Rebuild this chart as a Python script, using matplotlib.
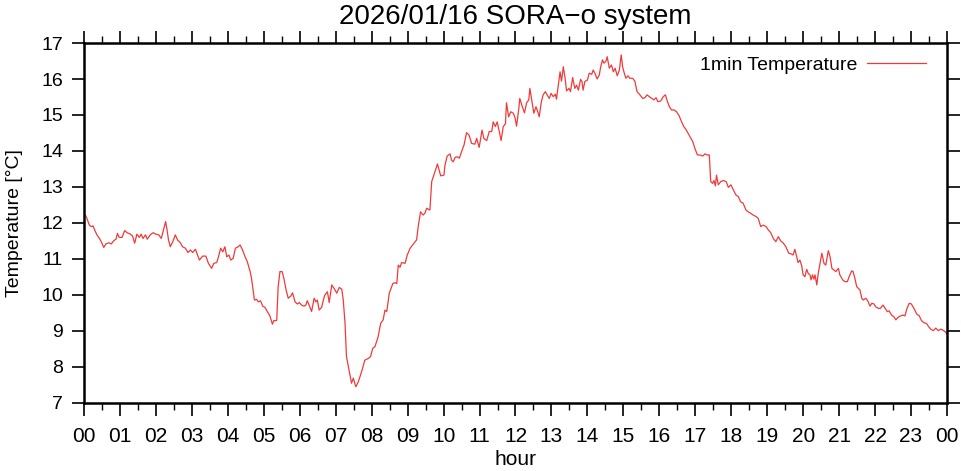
import numpy as np
import matplotlib
matplotlib.use('Agg')
import matplotlib.pyplot as plt
from matplotlib.ticker import MultipleLocator

# 1 minute temperature (hour, degC)
hours = [
    0.00, 0.04, 0.08, 0.15, 0.20, 0.25, 0.30, 0.36, 0.43, 0.48, 0.55, 0.61, 0.69, 0.76, 0.83,
    0.89, 0.93, 0.98, 1.06, 1.13, 1.20, 1.29, 1.35, 1.41, 1.47, 1.54, 1.59, 1.64, 1.71, 1.76,
    1.84, 1.92, 2.00, 2.08, 2.15, 2.21, 2.27, 2.31, 2.35, 2.40, 2.47, 2.54, 2.60, 2.68, 2.74,
    2.82, 2.89, 2.96, 3.02, 3.10, 3.21, 3.30, 3.39, 3.46, 3.55, 3.61, 3.69, 3.74, 3.80, 3.86,
    3.92, 3.97, 4.03, 4.08, 4.15, 4.21, 4.29, 4.34, 4.41, 4.48, 4.54, 4.62, 4.66, 4.71, 4.74,
    4.80, 4.85, 4.91, 4.97, 5.03, 5.10, 5.17, 5.24, 5.28, 5.36, 5.40, 5.45, 5.51, 5.56, 5.62,
    5.68, 5.75, 5.80, 5.87, 5.93, 5.99, 6.05, 6.12, 6.17, 6.21, 6.26, 6.33, 6.40, 6.45, 6.49,
    6.54, 6.61, 6.67, 6.70, 6.77, 6.82, 6.89, 6.95, 7.03, 7.10, 7.17, 7.21, 7.26, 7.30, 7.38,
    7.44, 7.49, 7.56, 7.63, 7.72, 7.81, 7.91, 7.97, 8.03, 8.09, 8.18, 8.25, 8.32, 8.37, 8.42,
    8.49, 8.59, 8.65, 8.70, 8.74, 8.79, 8.83, 8.93, 8.99, 9.07, 9.18, 9.25, 9.30, 9.36, 9.43,
    9.48, 9.53, 9.62, 9.67, 9.73, 9.83, 9.92, 10.01, 10.04, 10.10, 10.18, 10.22, 10.27, 10.32,
    10.38, 10.44, 10.50, 10.57, 10.64, 10.71, 10.78, 10.87, 10.92, 10.99, 11.07, 11.12, 11.20,
    11.27, 11.34, 11.38, 11.44, 11.49, 11.55, 11.60, 11.66, 11.72, 11.75, 11.81, 11.87, 11.94,
    11.99, 12.03, 12.09, 12.12, 12.19, 12.25, 12.31, 12.37, 12.40, 12.46, 12.51, 12.57, 12.62,
    12.66, 12.72, 12.77, 12.83, 12.88, 12.94, 12.99, 13.05, 13.11, 13.14, 13.20, 13.24, 13.28,
    13.33, 13.38, 13.42, 13.49, 13.53, 13.59, 13.65, 13.70, 13.75, 13.81, 13.85, 13.88, 13.93,
    14.00, 14.05, 14.12, 14.16, 14.21, 14.27, 14.33, 14.37, 14.42, 14.46, 14.52, 14.55, 14.61,
    14.67, 14.72, 14.77, 14.83, 14.89, 14.94, 14.98, 15.02, 15.07, 15.13, 15.18, 15.26, 15.32,
    15.38, 15.46, 15.54, 15.60, 15.66, 15.72, 15.79, 15.85, 15.91, 15.96, 16.04, 16.11, 16.17,
    16.22, 16.28, 16.34, 16.41, 16.48, 16.55, 16.62, 16.68, 16.74, 16.83, 16.93, 16.99, 17.06,
    17.13, 17.21, 17.27, 17.33, 17.39, 17.43, 17.48, 17.52, 17.56, 17.59, 17.64, 17.71, 17.78,
    17.86, 17.92, 17.99, 18.06, 18.13, 18.20, 18.26, 18.33, 18.41, 18.47, 18.54, 18.61, 18.69,
    18.75, 18.82, 18.89, 18.97, 19.03, 19.10, 19.17, 19.24, 19.31, 19.37, 19.45, 19.52, 19.60,
    19.67, 19.72, 19.77, 19.82, 19.86, 19.91, 19.96, 20.00, 20.05, 20.10, 20.14, 20.19, 20.22,
    20.26, 20.30, 20.33, 20.38, 20.42, 20.47, 20.52, 20.58, 20.63, 20.70, 20.75, 20.80, 20.86,
    20.91, 20.98, 21.02, 21.10, 21.16, 21.23, 21.28, 21.35, 21.39, 21.44, 21.49, 21.54, 21.58,
    21.63, 21.67, 21.75, 21.81, 21.86, 21.91, 21.97, 22.02, 22.09, 22.15, 22.22, 22.28, 22.34,
    22.39, 22.46, 22.52, 22.58, 22.64, 22.71, 22.78, 22.83, 22.89, 22.95, 23.01, 23.08, 23.16,
    23.23, 23.29, 23.36, 23.43, 23.49, 23.55, 23.62, 23.69, 23.76, 23.82, 23.88, 23.95, 24.00,
]
temps = [
    12.25, 12.22, 12.13, 11.94, 11.90, 11.92, 11.80, 11.67, 11.57, 11.48, 11.32, 11.42, 11.45, 11.42, 11.51,
    11.55, 11.71, 11.60, 11.60, 11.79, 11.73, 11.69, 11.64, 11.44, 11.69, 11.60, 11.69, 11.57, 11.67, 11.55,
    11.67, 11.73, 11.69, 11.67, 11.57, 11.81, 12.04, 11.81, 11.53, 11.34, 11.48, 11.67, 11.53, 11.45, 11.34,
    11.30, 11.18, 11.25, 11.18, 11.27, 10.97, 11.08, 11.08, 10.88, 10.74, 10.88, 10.90, 11.06, 11.30, 11.20,
    11.34, 11.06, 11.11, 10.97, 11.02, 11.30, 11.34, 11.39, 11.25, 11.06, 10.93, 10.65, 10.46, 10.09, 9.86,
    9.88, 9.81, 9.84, 9.69, 9.66, 9.54, 9.42, 9.19, 9.29, 9.29, 10.23, 10.65, 10.65, 10.46, 10.14,
    9.91, 9.97, 10.06, 9.81, 9.75, 9.79, 9.72, 9.69, 9.72, 9.84, 9.72, 9.54, 9.91, 9.81, 9.86,
    9.58, 9.66, 9.91, 10.00, 10.09, 9.79, 10.28, 10.19, 10.05, 10.21, 10.16, 9.86, 9.21, 8.29, 7.87,
    7.55, 7.69, 7.45, 7.59, 7.87, 8.19, 8.24, 8.29, 8.52, 8.56, 8.84, 9.21, 9.31, 9.58, 9.54,
    10.05, 10.32, 10.34, 10.32, 10.83, 10.77, 10.90, 10.88, 11.11, 11.30, 11.44, 11.53, 11.94, 12.31, 12.22,
    12.27, 12.41, 12.36, 13.15, 13.33, 13.64, 13.31, 13.33, 13.61, 13.86, 13.92, 13.75, 13.70, 13.82,
    13.84, 13.80, 13.98, 14.17, 14.51, 14.44, 14.21, 14.19, 14.35, 14.10, 14.58, 14.35, 14.29,
    14.54, 14.54, 14.81, 14.68, 14.81, 14.54, 14.29, 14.68, 14.75, 15.34, 14.95, 15.09, 15.05,
    14.91, 14.69, 15.16, 15.46, 15.23, 15.06, 15.34, 15.42, 15.74, 15.37, 15.05, 15.23, 15.09,
    14.95, 15.37, 15.56, 15.65, 15.56, 15.46, 15.60, 15.51, 15.58, 15.44, 15.90, 16.20, 15.94,
    16.34, 16.02, 15.67, 15.74, 15.65, 16.04, 15.74, 15.83, 15.69, 15.99, 15.93, 15.69, 15.93,
    15.97, 16.16, 16.13, 16.25, 16.16, 16.00, 16.11, 16.34, 16.53, 16.44, 16.50, 16.62, 16.30,
    16.39, 16.20, 16.30, 16.09, 16.25, 16.67, 16.34, 16.18, 16.02, 16.09, 16.02, 16.02, 15.94,
    15.65, 15.56, 15.46, 15.48, 15.56, 15.51, 15.46, 15.42, 15.48, 15.37, 15.39, 15.51, 15.56,
    15.39, 15.23, 15.14, 15.14, 15.09, 14.98, 14.81, 14.68, 14.60, 14.44, 14.26, 14.07, 13.89,
    13.89, 13.86, 13.92, 13.89, 13.89, 13.15, 13.10, 13.18, 13.03, 13.33, 13.06, 13.15, 13.18,
    13.15, 12.99, 13.06, 12.92, 12.78, 12.73, 12.59, 12.55, 12.36, 12.31, 12.27, 12.22, 12.18,
    12.13, 11.90, 11.94, 11.90, 11.81, 11.73, 11.57, 11.48, 11.62, 11.51, 11.44, 11.34, 11.16,
    11.14, 11.11, 11.27, 11.06, 10.90, 10.97, 10.81, 10.56, 10.51, 10.71, 10.60, 10.56, 10.42,
    10.56, 10.44, 10.56, 10.28, 10.60, 10.88, 11.16, 10.88, 10.83, 11.23, 11.06, 10.74, 10.69,
    10.65, 10.74, 10.56, 10.42, 10.37, 10.37, 10.51, 10.67, 10.65, 10.46, 10.23, 10.18, 10.14,
    9.91, 9.86, 9.91, 9.81, 9.69, 9.77, 9.75, 9.67, 9.63, 9.63, 9.72, 9.63, 9.54,
    9.56, 9.44, 9.40, 9.31, 9.38, 9.42, 9.44, 9.42, 9.63, 9.77, 9.75, 9.63, 9.47,
    9.42, 9.29, 9.23, 9.21, 9.12, 9.05, 9.01, 9.08, 9.01, 9.05, 9.03, 8.98, 8.92,
]
xtick_labels = [f'{h % 24:02d}' for h in range(25)]

title = '2026/01/16 SORA\u2212o system'
series_name = '1min Temperature'

plt.rcParams['font.family'] = ['Liberation Sans', 'DejaVu Sans']
narrow = ['Liberation Sans Narrow', 'Liberation Sans']

fig = plt.figure(figsize=(9.61, 4.71), dpi=100)
ax = fig.add_axes([0.0874, 0.1444, 0.8980, 0.7643])

ax.plot(hours, temps, color='#f03a3a', lw=0.9, label=series_name)

ax.set_xlim(0, 24)
ax.set_ylim(7, 17)
ax.set_xticks(range(25))
ax.set_xticklabels(xtick_labels, family=narrow)
ax.xaxis.set_minor_locator(MultipleLocator(0.5))
ax.yaxis.set_major_locator(MultipleLocator(1))

ax.tick_params(axis='x', which='major', direction='out', length=9, width=1.2,
               top=True, labelsize=15, pad=8)
ax.tick_params(axis='x', which='minor', direction='out', length=5, width=1.0, top=True)
ax.tick_params(axis='y', which='major', direction='out', length=9, width=1.2,
               right=True, labelsize=14, pad=6)
for sp in ax.spines.values():
    sp.set_linewidth(1.8)

ax.set_title(title, fontsize=20, pad=14)
ax.set_xlabel('hour', fontsize=15, family=narrow, labelpad=3)
ax.set_ylabel('Temperature [\u00b0C]', fontsize=14, labelpad=13)

ax.legend(loc='upper right', frameon=False, markerfirst=False, fontsize=14,
          handlelength=3.0, handletextpad=0.5, borderaxespad=0.3,
          bbox_to_anchor=(0.991, 1.0))

fig.savefig('out.png', dpi=100)
